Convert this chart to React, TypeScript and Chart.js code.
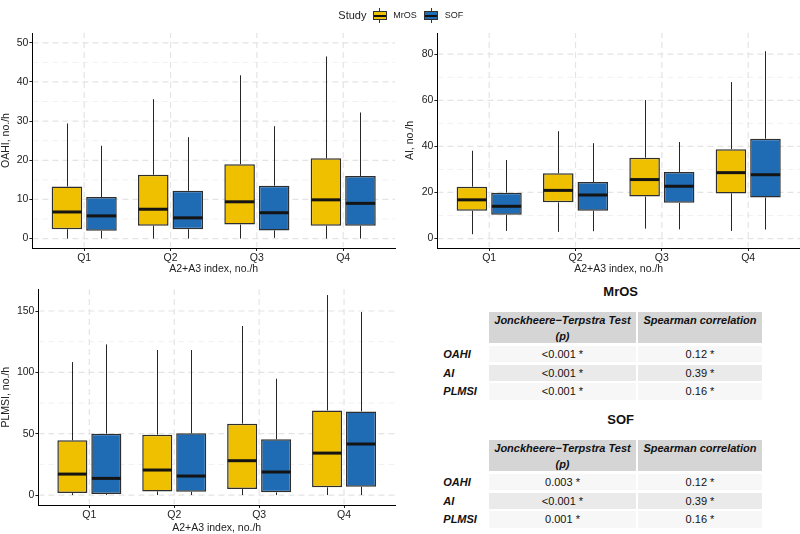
import React, { useEffect, useRef } from "react";
import { Chart, registerables } from "chart.js";
Chart.register(...registerables);

const FONT = "'Liberation Sans', Arial, Helvetica, sans-serif";

// ---------- data ----------
const quartiles = ["Q1", "Q2", "Q3", "Q4"];
const studies = ["MrOS", "SOF"];
const studyColors = ["#EFC000", "#206CB4"];
const xAxisTitle = "A2+A3 index, no./h";

// five-number summaries per quartile: [min, q1, median, q3, max]
const oahiMrOS = [[0, 2.4, 6.8, 13.3, 29.4], [0, 3.3, 7.5, 16.3, 35.6], [0, 3.6, 9.4, 19.0, 41.7], [0, 3.3, 9.9, 20.5, 46.5]];
const oahiSOF = [[0, 2.0, 5.8, 10.6, 23.7], [0, 2.4, 5.3, 12.2, 25.9], [0.2, 2.1, 6.6, 13.5, 28.7], [0, 3.3, 9.0, 16.0, 32.2]];
const aiMrOS = [[1.9, 12.1, 16.8, 22.5, 38.1], [2.9, 15.7, 20.9, 28.3, 46.6], [4.3, 18.2, 25.6, 35.1, 60.1], [3.3, 19.6, 28.6, 38.8, 67.9]];
const aiSOF = [[3.3, 10.3, 14.0, 19.9, 34.1], [3.2, 12.1, 18.9, 24.5, 41.4], [4.0, 15.5, 22.7, 28.9, 41.9], [3.9, 17.8, 27.7, 43.3, 81.3]];
const plmsiMrOS = [[0, 1.6, 17.1, 44.6, 108.4], [0, 3.0, 20.4, 49.2, 118.2], [0, 4.9, 28.0, 58.2, 137.8], [0, 6.3, 34.2, 69.0, 163.0]];
const plmsiSOF = [[0, 0.8, 13.6, 50.0, 122.8], [0, 2.7, 15.5, 50.3, 118.2], [0, 2.2, 18.8, 45.4, 94.8], [0, 6.8, 41.6, 68.2, 149.2]];

const oahiTicks = [0, 10, 20, 30, 40, 50];
const oahiMinor = [5, 15, 25, 35, 45];
const aiTicks = [0, 20, 40, 60, 80];
const aiMinor = [10, 30, 50, 70];
const plmsiTicks = [0, 50, 100, 150];
const plmsiMinor = [25, 75, 125];

// tables
const tableRows = ["OAHI", "AI", "PLMSI"];
const tableHeaders = ["Jonckheere\u2212Terpstra Test", "(p)", "Spearman correlation"];
const jtMrOS = ["<0.001 *", "<0.001 *", "<0.001 *"];
const spMrOS = ["0.12 *", "0.39 *", "0.16 *"];
const jtSOF = ["0.003 *", "<0.001 *", "0.001 *"];
const spSOF = ["0.12 *", "0.39 *", "0.16 *"];

// ---------- panels (layout) ----------
type Panel = {
  yTitle: string;
  series: number[][][];
  ticks: number[];
  minor: number[];
  yMin: number;
  yMax: number;
  box: { left: number; top: number; width: number; height: number };
  pad: { left: number; right: number; top: number; bottom: number };
  yAxisW: number;
  xAxisH: number;
};

const panels: Panel[] = [
  {
    yTitle: "OAHI, no./h", series: [oahiMrOS, oahiSOF], ticks: oahiTicks, minor: oahiMinor,
    yMin: -2.4, yMax: 52.5,
    box: { left: 0, top: 0, width: 400, height: 280 },
    pad: { left: 0, right: 5, top: 33, bottom: 4.7 }, yAxisW: 32.4, xAxisH: 27.3,
  },
  {
    yTitle: "AI, no./h", series: [aiMrOS, aiSOF], ticks: aiTicks, minor: aiMinor,
    yMin: -4.1, yMax: 89.2,
    box: { left: 400, top: 0, width: 400, height: 280 },
    pad: { left: 3.7, right: 0, top: 33, bottom: 4.7 }, yAxisW: 33.7, xAxisH: 27.3,
  },
  {
    yTitle: "PLMSI, no./h", series: [plmsiMrOS, plmsiSOF], ticks: plmsiTicks, minor: plmsiMinor,
    yMin: -8.1, yMax: 167.7,
    box: { left: 0, top: 270, width: 400, height: 264 },
    pad: { left: 0, right: 5, top: 19.3, bottom: 0 }, yAxisW: 38.4, xAxisH: 29,
  },
];

function makeBoxPlugin(p: Panel) {
  return {
    id: "boxWhisker",
    beforeDraw(chart: any) {
      const { ctx, chartArea: ca, scales } = chart;
      const x = scales.x, y = scales.y;
      ctx.save();
      ctx.beginPath();
      ctx.rect(ca.left + 1, ca.top, ca.right - ca.left - 1, ca.bottom - ca.top - 1);
      ctx.clip();
      ctx.setLineDash([6, 4]);
      ctx.strokeStyle = "#F1F1F1";
      ctx.lineWidth = 1;
      for (const v of p.minor) {
        const py = y.getPixelForValue(v);
        ctx.beginPath(); ctx.moveTo(ca.left, py); ctx.lineTo(ca.right, py); ctx.stroke();
      }
      ctx.strokeStyle = "#E4E4E4";
      ctx.lineWidth = 1.2;
      for (const v of p.ticks) {
        const py = y.getPixelForValue(v);
        ctx.beginPath(); ctx.moveTo(ca.left, py); ctx.lineTo(ca.right, py); ctx.stroke();
      }
      quartiles.forEach((_, i) => {
        const px = x.getPixelForValue(i + 1);
        ctx.beginPath(); ctx.moveTo(px, ca.bottom); ctx.lineTo(px, ca.top); ctx.stroke();
      });
      ctx.restore();
    },
    beforeDatasetsDraw(chart: any) {
      const { ctx, scales } = chart;
      const y = scales.y;
      ctx.save();
      ctx.strokeStyle = "#262626";
      ctx.lineWidth = 1;
      chart.data.datasets.forEach((_: any, di: number) => {
        const meta = chart.getDatasetMeta(di);
        meta.data.forEach((bar: any, i: number) => {
          const s = p.series[di][i];
          const bx = Math.round(bar.x) + 0.5;
          ctx.beginPath();
          ctx.moveTo(bx, y.getPixelForValue(s[3]));
          ctx.lineTo(bx, y.getPixelForValue(s[4]));
          ctx.moveTo(bx, y.getPixelForValue(s[1]));
          ctx.lineTo(bx, y.getPixelForValue(s[0]));
          ctx.stroke();
        });
      });
      ctx.restore();
    },
    afterDatasetsDraw(chart: any) {
      const { ctx, scales } = chart;
      const y = scales.y;
      ctx.save();
      ctx.strokeStyle = "#141414";
      ctx.lineWidth = 3;
      chart.data.datasets.forEach((_: any, di: number) => {
        const meta = chart.getDatasetMeta(di);
        meta.data.forEach((bar: any, i: number) => {
          const s = p.series[di][i];
          const py = y.getPixelForValue(s[2]);
          ctx.beginPath();
          ctx.moveTo(bar.x - bar.width / 2 + 0.6, py);
          ctx.lineTo(bar.x + bar.width / 2 - 0.6, py);
          ctx.stroke();
        });
      });
      ctx.restore();
    },
  };
}

function PanelChart({ p }: { p: Panel }) {
  const ref = useRef<HTMLCanvasElement | null>(null);
  useEffect(() => {
    if (!ref.current) return;
    const tickFont = { family: FONT, size: 10.5 };
    const chart = new Chart(ref.current, {
      type: "bar",
      data: {
        datasets: studies.map((s, si) => ({
          label: s,
          data: p.series[si].map((b, i) => ({ x: i + 1, y: [b[1], b[3]] })),
          backgroundColor: studyColors[si],
          borderColor: "#2E2E2E",
          borderWidth: 1.5,
          borderSkipped: false,
          categoryPercentage: 0.8,
          barPercentage: 0.885,
        })),
      } as any,
      options: {
        responsive: false,
        animation: false,
        events: [],
        layout: { padding: p.pad },
        plugins: { legend: { display: false }, tooltip: { enabled: false } },
        scales: {
          x: {
            type: "linear",
            min: 0.4,
            max: 4.6,
            offset: false,
            bounds: "data",
            afterBuildTicks: (s: any) => { s.ticks = quartiles.map((_, i) => ({ value: i + 1 })); },
            afterFit: (s: any) => { s.height = p.xAxisH; },
            ticks: {
              autoSkip: false, maxRotation: 0, padding: 1, color: "#222", font: tickFont,
              callback: (v: any) => quartiles[Math.round(Number(v)) - 1] ?? "",
            },
            grid: { drawOnChartArea: false, drawTicks: true, tickLength: 3, tickColor: "#222", tickWidth: 1, offset: false },
            border: { display: true, color: "#000", width: 1 },
            title: { display: true, text: xAxisTitle, color: "#222", font: tickFont, padding: 0 },
          },
          y: {
            type: "linear",
            min: p.yMin,
            max: p.yMax,
            bounds: "data",
            afterBuildTicks: (s: any) => { s.ticks = p.ticks.map((v) => ({ value: v })); },
            afterFit: (s: any) => { s.width = p.yAxisW; },
            ticks: { autoSkip: false, padding: 1, color: "#222", font: tickFont, callback: (v: any) => String(v) },
            grid: { drawOnChartArea: false, drawTicks: true, tickLength: 3, tickColor: "#222", tickWidth: 1 },
            border: { display: true, color: "#000", width: 1 },
            title: { display: true, text: p.yTitle, color: "#222", font: tickFont, padding: 0 },
          },
        },
      } as any,
      plugins: [makeBoxPlugin(p)],
    });
    return () => chart.destroy();
  }, [p]);
  return (
    <canvas
      ref={ref}
      width={p.box.width}
      height={p.box.height}
      style={{ position: "absolute", left: p.box.left, top: p.box.top, width: p.box.width, height: p.box.height }}
    />
  );
}

function LegendKey({ left, color }: { left: number; color: string }) {
  return (
    <div style={{ position: "absolute", left, top: 8, width: 14, height: 15 }}>
      <div style={{ position: "absolute", left: 6.5, top: 0, width: 1, height: 15, background: "#333" }} />
      <div style={{ position: "absolute", left: 0, top: 3, width: 14, height: 9, boxSizing: "border-box", border: "1px solid #333", background: color }} />
      <div style={{ position: "absolute", left: 1, top: 6.5, width: 12, height: 2, background: "#111" }} />
    </div>
  );
}

const txt = (extra: React.CSSProperties): React.CSSProperties => ({
  position: "absolute", fontFamily: FONT, color: "#111", whiteSpace: "nowrap", ...extra,
});

function StatTable({ title, offset, jt, sp }: { title: string; offset: number; jt: string[]; sp: string[] }) {
  const col1 = { left: 489, width: 147 };
  const col2 = { left: 637.7, width: 124.6 };
  const rowTops = [346, 364.7, 383.3];
  const rowBg = ["#F7F7F7", "#EAEAEA", "#F7F7F7"];
  return (
    <>
      <div style={txt({ left: 560, width: 121.4, top: offset + 283.7, lineHeight: "16px", fontSize: 13, fontWeight: "bold", textAlign: "center" })}>{title}</div>
      <div style={{ position: "absolute", left: col1.left, top: offset + 311.7, width: col1.width, height: 31.6, background: "#D5D5D5" }} />
      <div style={{ position: "absolute", left: col2.left, top: offset + 311.7, width: col2.width, height: 31.6, background: "#D5D5D5" }} />
      <div style={txt({ left: col1.left, width: col1.width, top: offset + 312, lineHeight: "16px", fontSize: 11, fontWeight: "bold", fontStyle: "italic", textAlign: "center" })}>
        {tableHeaders[0]}<br />{tableHeaders[1]}
      </div>
      <div style={txt({ left: col2.left, width: col2.width, top: offset + 312, lineHeight: "16px", fontSize: 11, fontWeight: "bold", fontStyle: "italic", textAlign: "center" })}>
        {tableHeaders[2]}
      </div>
      {tableRows.map((r, i) => (
        <React.Fragment key={r}>
          <div style={txt({ left: 443.3, top: offset + rowTops[i], lineHeight: "16.3px", fontSize: 11, fontWeight: "bold", fontStyle: "italic" })}>{r}</div>
          <div style={txt({ left: col1.left, width: col1.width, top: offset + rowTops[i], height: 16.3, lineHeight: "16.3px", fontSize: 11, textAlign: "center", background: rowBg[i] })}>{jt[i]}</div>
          <div style={txt({ left: col2.left, width: col2.width, top: offset + rowTops[i], height: 16.3, lineHeight: "16.3px", fontSize: 11, textAlign: "center", background: rowBg[i] })}>{sp[i]}</div>
        </React.Fragment>
      ))}
    </>
  );
}

export default function App() {
  return (
    <div style={{ position: "fixed", left: 0, top: 0, width: 800, height: 534, background: "#fff", overflow: "hidden" }}>
      {panels.map((p, i) => <PanelChart key={i} p={p} />)}
      <div style={txt({ left: 338.3, top: 8.5, lineHeight: "13px", fontSize: 11, color: "#222" })}>Study</div>
      <LegendKey left={372.7} color={studyColors[0]} />
      <div style={txt({ left: 393.3, top: 9.5, lineHeight: "11px", fontSize: 9, color: "#222" })}>{studies[0]}</div>
      <LegendKey left={424.3} color={studyColors[1]} />
      <div style={txt({ left: 444.7, top: 9.5, lineHeight: "11px", fontSize: 9, color: "#222" })}>{studies[1]}</div>
      <StatTable title={studies[0]} offset={0} jt={jtMrOS} sp={spMrOS} />
      <StatTable title={studies[1]} offset={128} jt={jtSOF} sp={spSOF} />
    </div>
  );
}
